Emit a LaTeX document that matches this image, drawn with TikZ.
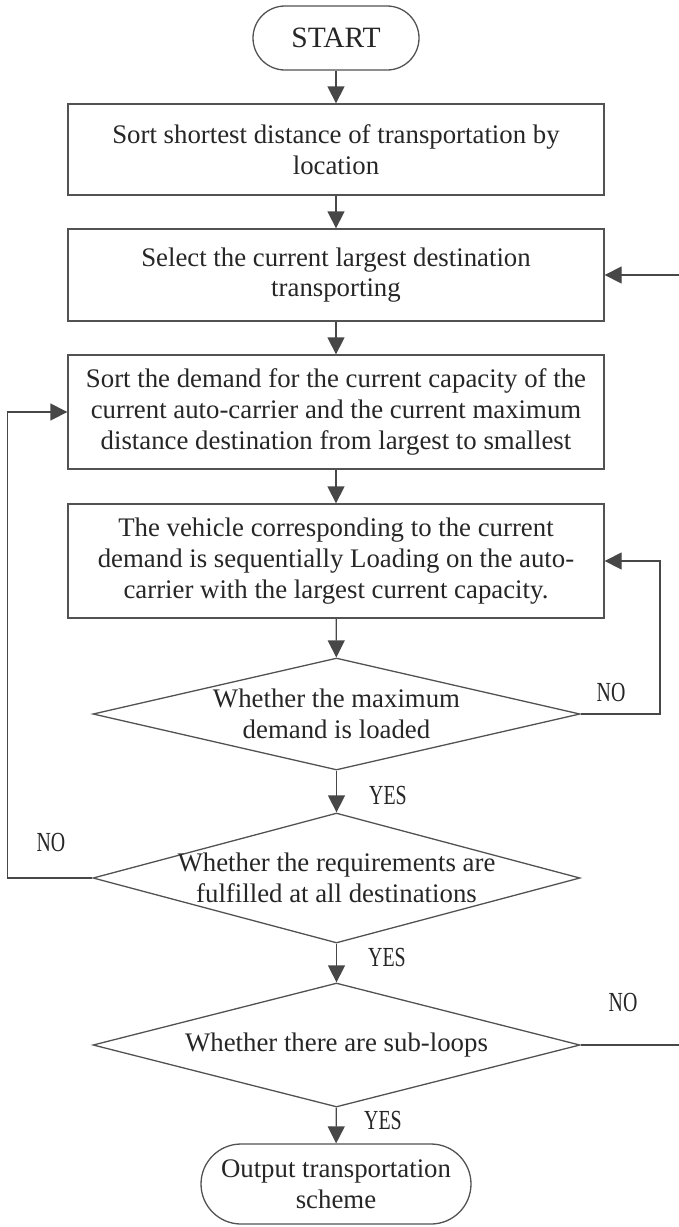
\documentclass[tikz,border=0pt]{standalone}
\usepackage{fontspec}
\setmainfont{Liberation Serif}
\newfontfamily\narrowfont{Liberation Serif}[FakeStretch=0.72]
\usetikzlibrary{arrows.meta,shapes.geometric}

\tikzset{
  every node/.style={text=black!85},
  body/.style={font=\fontsize{26.8}{30.8}\selectfont, align=center},
  procbox/.style={body, draw=black!68, line width=1.3pt, rectangle,
    minimum width=536pt, inner sep=0pt},
  terminal/.style={body, draw=black!68, line width=1.3pt, rectangle,
    inner sep=0pt},
  decision/.style={draw=black!68, line width=1.3pt, diamond,
    minimum width=487pt, inner sep=0pt},
  flowtext/.style={body},
  answer/.style={font=\narrowfont\fontsize{27.6}{31}\selectfont, inner sep=0pt},
  flow/.style={draw=black!72, line width=1.3pt,
    -{Triangle[length=17pt,width=17pt]}},
}

\begin{document}
\begin{tikzpicture}[x=1pt,y=-1pt]
\useasboundingbox (0,0) rectangle (679,1227);
\clip (0,0) rectangle (679,1227);

% terminals and process steps
\node[terminal, font=\fontsize{29.5}{32}\selectfont, minimum width=166pt,
  minimum height=64pt, rounded corners=32pt] (start) at (336,38) {START};
\node[procbox, minimum height=91pt] (sortdist) at (336,149.5)
  {Sort shortest distance of transportation by\\location};
\node[procbox, minimum height=92pt] (select) at (336,275)
  {Select the current largest destination\\transporting};
\node[procbox, minimum height=114pt] (sortdem) at (336,412)
  {Sort the demand for the current capacity of the\\current auto-carrier and the current maximum\\distance destination from largest to smallest};
\node[procbox, minimum height=114pt] (load) at (336,561)
  {The vehicle corresponding to the current\\demand is sequentially Loading on the auto-\\carrier with the largest current capacity.};

% decisions
\node[decision, minimum height=112pt] (maxdem) at (336.5,714) {};
\node[flowtext] at (maxdem) {Whether the maximum\\demand is loaded};
\node[decision, minimum height=130pt] (allreq) at (336.5,878) {};
\node[flowtext] at (allreq) {Whether the requirements are\\fulfilled at all destinations};
\node[decision, minimum height=124pt] (subloop) at (336.5,1045) {};
\node[flowtext] at (subloop) {Whether there are sub-loops};

\node[terminal, minimum width=270pt, minimum height=80pt, rounded corners=40pt]
  (output) at (336,1184) {Output transportation\\scheme};

% main flow
\draw[flow] (start) -- (sortdist);
\draw[flow] (sortdist) -- (select);
\draw[flow] (select) -- (sortdem);
\draw[flow] (sortdem) -- (load);
\draw[flow] (load) -- (maxdem);
\draw[flow] (maxdem) -- (allreq);
\draw[flow] (allreq) -- (subloop);
\draw[flow] (subloop) -- (output);

% feedback loops
\coordinate (rloop) at (660,0);
\coordinate (lloop) at (7.4,0);
\coordinate (farright) at (720,0);
\draw[flow] (maxdem.east) -- (maxdem.east -| rloop) |- (load.east);
\draw[flow] (allreq.west) -- (allreq.west -| lloop) |- (sortdem.west);
\draw[flow] (subloop.east) -- (subloop.east -| farright) |- (select.east);

% branch labels
\node[answer] (no1) at (611,692) {NO};
\node[answer] (yes1) at (388,795) {YES};
\node[answer] (no2) at (51,842) {NO};
\node[answer] (yes2) at (387,957) {YES};
\node[answer] (no3) at (623,1002) {NO};
\node[answer] (yes3) at (383,1120) {YES};
\end{tikzpicture}
\end{document}
